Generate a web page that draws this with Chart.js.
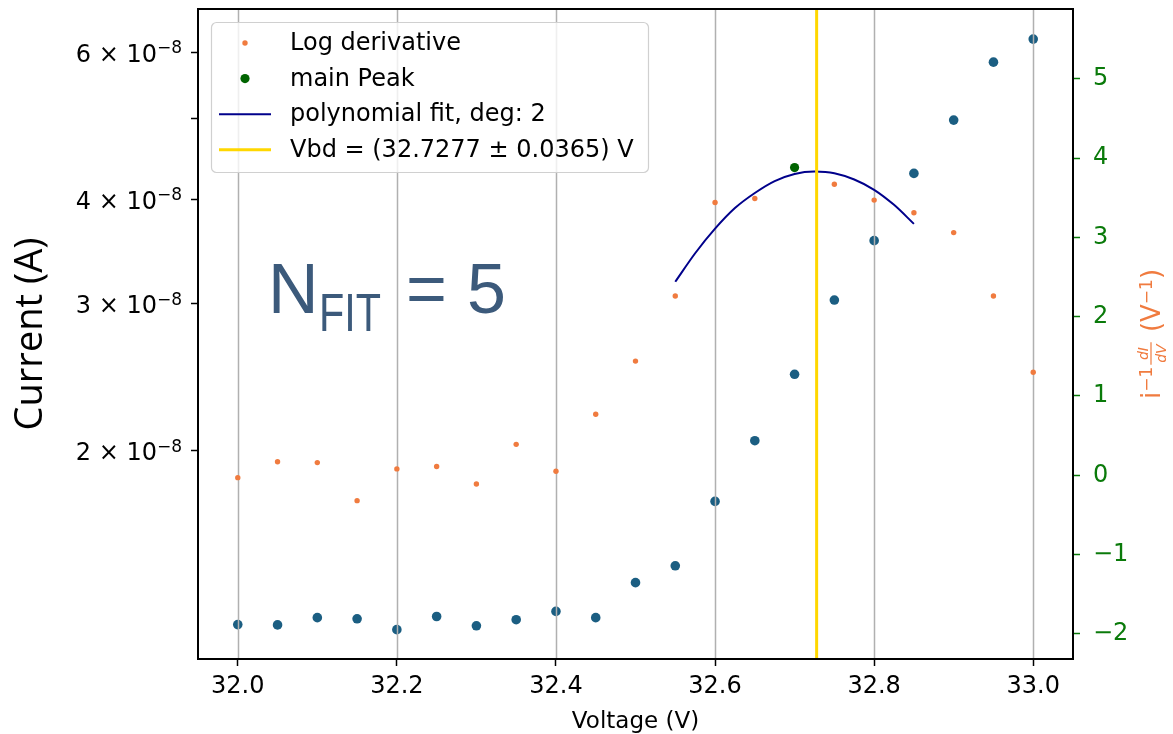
<!DOCTYPE html>
<html>
<head>
<meta charset="utf-8">
<script src="https://cdn.jsdelivr.net/npm/chart.js@4.4.0/dist/chart.umd.min.js"></script>
<style>
  html, body { margin: 0; padding: 0; background: #ffffff; }
  #wrap { width: 1173px; height: 734px; position: relative; }
</style>
</head>
<body>
<div id="wrap"><canvas id="chart" width="1173" height="734"></canvas></div>
<script>
// ---- measured data ----
const voltage = [32.00, 32.05, 32.10, 32.15, 32.20, 32.25, 32.30, 32.35, 32.40, 32.45, 32.50,
                 32.55, 32.60, 32.65, 32.70, 32.75, 32.80, 32.85, 32.90, 32.95, 33.00];
const current = [1.239e-8, 1.238e-8, 1.263e-8, 1.259e-8, 1.222e-8, 1.267e-8, 1.235e-8, 1.256e-8,
                 1.285e-8, 1.263e-8, 1.391e-8, 1.457e-8, 1.740e-8, 2.057e-8, 2.470e-8, 3.031e-8,
                 3.570e-8, 4.297e-8, 4.977e-8, 5.839e-8, 6.222e-8];
const logDerivative = [-0.03, 0.17, 0.16, -0.32, 0.08, 0.11, -0.11, 0.39, 0.05, 0.77, 1.44,
                       2.26, 3.44, 3.49, 3.88, 3.67, 3.47, 3.31, 3.06, 2.26, 1.30];
const peakVoltage = [32.70];
const peakValue = [3.88];
const fitVoltage = [32.550, 32.575, 32.600, 32.625, 32.650, 32.675, 32.700,
                    32.725, 32.750, 32.775, 32.800, 32.825, 32.850];
const fitValue = [2.44, 2.80, 3.11, 3.37, 3.56, 3.71, 3.80, 3.83, 3.81, 3.73, 3.60, 3.41, 3.17];
const vbd = 32.7277;
const vbdErr = 0.0365;
const nFit = 5;

// ---- axes ----
const xRange = [31.95, 33.05];
const currentRange = [1.127e-8, 6.76e-8];
const derivRange = [-2.317, 5.88];
const xTicks = [32.0, 32.2, 32.4, 32.6, 32.8, 33.0];
const currentTicks = [2e-8, 3e-8, 4e-8, 5e-8, 6e-8];
const currentTickMantissa = ['2', '3', '4', '', '6'];
const currentTickExponent = -8;
const derivTicks = [-2, -1, 0, 1, 2, 3, 4, 5];

const COLORS = {
  current: '#1b5e82',
  deriv: '#f07b3f',
  peak: '#006400',
  fit: '#00008b',
  vbd: '#ffd700',
  rightAxis: '#0a7a0a',
  grid: '#b0b0b0',
  note: '#3c5a7b'
};

const toPoints = (xs, ys) => xs.map((x, i) => ({ x: x, y: ys[i] }));

// vertical grid lines drawn just above the current points, below the derivative layer
const gridPlugin = {
  id: 'midGrid',
  afterDatasetDraw(chart, args) {
    if (chart.data.datasets[args.index].gridAbove !== true) return;
    const { ctx, chartArea } = chart;
    const xs = chart.scales.x;
    ctx.save();
    ctx.beginPath();
    ctx.rect(chartArea.left, chartArea.top, chartArea.right - chartArea.left, chartArea.bottom - chartArea.top);
    ctx.clip();
    ctx.strokeStyle = COLORS.grid;
    ctx.lineWidth = 1.5;
    xTicks.forEach(v => {
      const px = Math.round(xs.getPixelForValue(v)) + 0.5;
      ctx.beginPath();
      ctx.moveTo(px, chartArea.top);
      ctx.lineTo(px, chartArea.bottom);
      ctx.stroke();
    });
    ctx.restore();
  }
};

const framePlugin = {
  id: 'frame',
  afterDatasetsDraw(chart) {
    const { ctx, chartArea } = chart;
    ctx.save();
    ctx.strokeStyle = '#000';
    ctx.lineWidth = 2;
    ctx.strokeRect(chartArea.left, chartArea.top, chartArea.right - chartArea.left, chartArea.bottom - chartArea.top);
    ctx.restore();
  }
};

// left tick labels in scientific form with a raised exponent
const sciTickPlugin = {
  id: 'sciTicks',
  afterDraw(chart) {
    const { ctx } = chart;
    const ys = chart.scales.yI;
    const right = ys.right - 7 - 9;
    const expText = '10';
    const supText = '\u2212' + Math.abs(currentTickExponent);
    ctx.save();
    ctx.fillStyle = '#000';
    ctx.textBaseline = 'alphabetic';
    ctx.textAlign = 'left';
    currentTicks.forEach((v, i) => {
      const m = currentTickMantissa[i];
      if (!m) return;
      const py = ys.getPixelForValue(v);
      ctx.font = '17px "DejaVu Sans"';
      const supW = ctx.measureText(supText).width;
      ctx.font = '24px "DejaVu Sans"';
      const main = m + ' \u00d7 ' + expText;
      const mainW = ctx.measureText(main).width;
      const base = py + 9.4;
      ctx.fillText(main, right - supW - mainW, base);
      ctx.font = '17px "DejaVu Sans"';
      ctx.fillText(supText, right - supW, base - 8.4);
    });
    ctx.restore();
  }
};

function drawRightTitle(ctx, cx, cy) {
  const base = 26, sup = 17, fr = 14;
  const fMain = base + 'px "DejaVu Sans"';
  const fSup = sup + 'px "DejaVu Sans"';
  const fFrac = 'italic ' + fr + 'px "DejaVu Sans"';
  ctx.save();
  ctx.translate(cx, cy);
  ctx.rotate(-Math.PI / 2);
  ctx.fillStyle = COLORS.deriv;
  ctx.strokeStyle = COLORS.deriv;
  ctx.textBaseline = 'alphabetic';
  ctx.textAlign = 'left';
  const w = (t, f) => { ctx.font = f; return ctx.measureText(t).width; };
  const fracW = Math.max(w('dI', fFrac), w('dV', fFrac)) + 4;
  const runs = [
    { t: 'i', f: fMain, dy: 0 },
    { t: '\u22121', f: fSup, dy: -8 },
    { frac: true, width: fracW + 4 },
    { t: ' (V', f: fMain, dy: 0 },
    { t: '\u22121', f: fSup, dy: -8 },
    { t: ')', f: fMain, dy: 0 }
  ];
  let total = 0;
  runs.forEach(r => { r.width = r.frac ? r.width : w(r.t, r.f); total += r.width; });
  let x = -total / 2;
  runs.forEach(r => {
    if (r.frac) {
      const mid = x + r.width / 2;
      ctx.font = fFrac;
      ctx.textAlign = 'center';
      ctx.fillText('dI', mid, -12);
      ctx.fillText('dV', mid, 6);
      ctx.lineWidth = 1.2;
      ctx.beginPath();
      ctx.moveTo(mid - fracW / 2, -9);
      ctx.lineTo(mid + fracW / 2, -9);
      ctx.stroke();
      ctx.textAlign = 'left';
    } else {
      ctx.font = r.f;
      ctx.fillText(r.t, x, r.dy);
    }
    x += r.width;
  });
  ctx.restore();
}

const annotationPlugin = {
  id: 'annotations',
  afterDraw(chart) {
    const { ctx, chartArea } = chart;

    // axis titles
    ctx.save();
    ctx.fillStyle = '#000';
    ctx.textAlign = 'center';
    ctx.textBaseline = 'alphabetic';
    ctx.font = '23px "DejaVu Sans"';
    ctx.fillText('Voltage (V)', (chartArea.left + chartArea.right) / 2, 728);
    ctx.translate(42, (chartArea.top + chartArea.bottom) / 2);
    ctx.rotate(-Math.PI / 2);
    ctx.font = '38px "Open Sans"';
    ctx.fillText('Current (A)', 0, 0);
    ctx.restore();

    drawRightTitle(ctx, 1160, (chartArea.top + chartArea.bottom) / 2);

    // legend
    const box = { x: 211.5, y: 22.5, w: 437, h: 150 };
    ctx.save();
    ctx.beginPath();
    ctx.roundRect(box.x, box.y, box.w, box.h, 5);
    ctx.fillStyle = 'rgba(255,255,255,0.8)';
    ctx.fill();
    ctx.strokeStyle = '#d0d0d0';
    ctx.lineWidth = 1.2;
    ctx.stroke();
    const entries = chart.data.datasets.filter(d => d.inLegend);
    const baselines = [50, 85.6, 121.2, 156.8];
    ctx.font = '24px "DejaVu Sans"';
    ctx.textAlign = 'left';
    ctx.textBaseline = 'alphabetic';
    entries.forEach((d, i) => {
      const by = baselines[i];
      const my = by - 7;
      if (d.showLine) {
        ctx.strokeStyle = d.borderColor;
        ctx.lineWidth = d.borderWidth;
        ctx.beginPath();
        ctx.moveTo(219, my);
        ctx.lineTo(271, my);
        ctx.stroke();
      } else {
        ctx.fillStyle = d.backgroundColor;
        ctx.beginPath();
        ctx.arc(245, my, d.pointRadius, 0, Math.PI * 2);
        ctx.fill();
      }
      ctx.fillStyle = '#000';
      ctx.fillText(d.label, 290, by);
    });
    ctx.restore();

    // fit-size note
    ctx.save();
    ctx.fillStyle = COLORS.note;
    ctx.textBaseline = 'alphabetic';
    ctx.textAlign = 'left';
    ctx.font = '70px "Liberation Sans"';
    ctx.fillText('N', 268, 313);
    ctx.fillText('=', 406, 313);
    ctx.fillText(String(nFit), 467, 313);
    ctx.translate(319, 331);
    ctx.scale(0.78, 1);
    ctx.font = '53px "Liberation Sans"';
    ctx.fillText('FIT', 0, 0);
    ctx.restore();
  }
};

const tickFont = { family: 'DejaVu Sans', size: 24 };

new Chart(document.getElementById('chart'), {
  type: 'scatter',
  data: {
    datasets: [
      {
        label: 'Current',
        data: toPoints(voltage, current),
        yAxisID: 'yI',
        backgroundColor: COLORS.current,
        borderWidth: 0,
        pointRadius: 4.8,
        order: 5,
        gridAbove: true,
        inLegend: false
      },
      {
        label: 'Log derivative',
        data: toPoints(voltage, logDerivative),
        yAxisID: 'yD',
        backgroundColor: COLORS.deriv,
        borderWidth: 0,
        pointRadius: 2.7,
        order: 4,
        inLegend: true
      },
      {
        label: 'main Peak',
        data: toPoints(peakVoltage, peakValue),
        yAxisID: 'yD',
        backgroundColor: COLORS.peak,
        borderWidth: 0,
        pointRadius: 4.6,
        order: 3,
        inLegend: true
      },
      {
        label: 'polynomial fit, deg: 2',
        data: toPoints(fitVoltage, fitValue),
        yAxisID: 'yD',
        showLine: true,
        borderColor: COLORS.fit,
        borderWidth: 2,
        pointRadius: 0,
        cubicInterpolationMode: 'monotone',
        order: 2,
        inLegend: true
      },
      {
        label: 'Vbd = (' + vbd.toFixed(4) + ' \u00b1 ' + vbdErr.toFixed(4) + ') V',
        data: [{ x: vbd, y: derivRange[0] }, { x: vbd, y: derivRange[1] }],
        yAxisID: 'yD',
        showLine: true,
        borderColor: COLORS.vbd,
        borderWidth: 3,
        pointRadius: 0,
        order: 1,
        inLegend: true
      }
    ]
  },
  options: {
    responsive: false,
    animation: false,
    devicePixelRatio: 1,
    layout: { padding: { top: 9, left: 0, right: 0, bottom: 0 } },
    plugins: { legend: { display: false }, tooltip: { enabled: false } },
    scales: {
      x: {
        type: 'linear',
        position: 'bottom',
        min: xRange[0],
        max: xRange[1],
        afterBuildTicks: s => { s.ticks = xTicks.map(v => ({ value: v })); },
        afterFit: s => { s.height = 75; s.paddingLeft = 0; s.paddingRight = 0; },
        grid: { drawOnChartArea: false, tickLength: 7, tickColor: '#000', tickWidth: 1.5 },
        border: { display: false },
        ticks: { autoSkip: false, maxRotation: 0, color: '#000', font: tickFont, padding: 6,
                 callback: v => Number(v).toFixed(1) }
      },
      yI: {
        type: 'logarithmic',
        position: 'left',
        min: currentRange[0],
        max: currentRange[1],
        afterBuildTicks: s => { s.ticks = currentTicks.map(v => ({ value: v })); },
        afterFit: s => { s.width = 198; s.paddingTop = 0; s.paddingBottom = 0; },
        grid: { drawOnChartArea: false, tickLength: 7, tickColor: '#000', tickWidth: 1.5 },
        border: { display: false },
        ticks: { autoSkip: false, color: '#000', font: tickFont, padding: 9,
                 callback: () => '' }
      },
      yD: {
        type: 'linear',
        position: 'right',
        min: derivRange[0],
        max: derivRange[1],
        afterBuildTicks: s => { s.ticks = derivTicks.map(v => ({ value: v })); },
        afterFit: s => { s.width = 100; s.paddingTop = 0; s.paddingBottom = 0; },
        grid: { drawOnChartArea: false, tickLength: 7, tickColor: COLORS.rightAxis, tickWidth: 1.5 },
        border: { display: false },
        ticks: { autoSkip: false, color: COLORS.rightAxis, font: tickFont, padding: 13,
                 callback: v => (v < 0 ? '\u2212' + Math.abs(v) : String(v)) }
      }
    }
  },
  plugins: [gridPlugin, framePlugin, sciTickPlugin, annotationPlugin]
});
</script>
</body>
</html>
